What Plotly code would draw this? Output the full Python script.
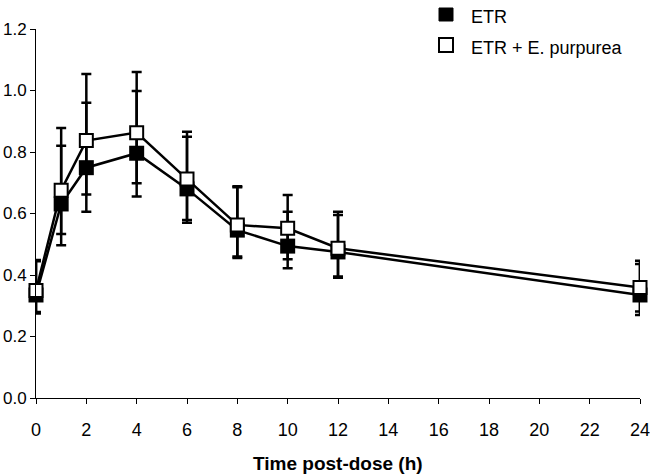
import plotly.graph_objects as go

# ---- data ----
times = [0, 1, 2, 4, 6, 8, 10, 12, 24]
etr_mean = [0.335, 0.631, 0.749, 0.796, 0.680, 0.546, 0.494, 0.475, 0.335]
etr_upper = [0.445, 0.820, 0.960, 0.998, 0.850, 0.689, 0.606, 0.595, 0.436]
etr_lower = [0.275, 0.497, 0.606, 0.655, 0.570, 0.455, 0.422, 0.391, 0.270]

ep_mean = [0.350, 0.676, 0.837, 0.863, 0.712, 0.563, 0.552, 0.487, 0.359]
ep_upper = [0.449, 0.878, 1.054, 1.060, 0.866, 0.685, 0.660, 0.606, 0.446]
ep_lower = [0.280, 0.533, 0.662, 0.698, 0.579, 0.460, 0.451, 0.395, 0.281]

series_names = ["ETR", "ETR + E. purpurea"]
x_ticks = [0, 2, 4, 6, 8, 10, 12, 14, 16, 18, 20, 22, 24]
y_ticks = [0.0, 0.2, 0.4, 0.6, 0.8, 1.0, 1.2]

FONT = "Liberation Sans, Arial, sans-serif"

def plus(u, m):
    return [a - b for a, b in zip(u, m)]

def minus(m, l):
    return [a - b for a, b in zip(m, l)]

fig = go.Figure()
fig.add_trace(go.Scatter(
    x=times, y=etr_mean, mode="lines+markers", name=series_names[0],
    line=dict(color="black", width=2.5),
    marker=dict(symbol="square", size=15, color="black"),
    error_y=dict(type="data", symmetric=False, array=plus(etr_upper, etr_mean),
                 arrayminus=minus(etr_mean, etr_lower), color="black",
                 thickness=2.5, width=5),
    cliponaxis=False, showlegend=False,
))
fig.add_trace(go.Scatter(
    x=times, y=ep_mean, mode="lines+markers", name=series_names[1],
    line=dict(color="black", width=2.5),
    marker=dict(symbol="square", size=13, color="white",
                line=dict(color="black", width=2)),
    error_y=dict(type="data", symmetric=False, array=plus(ep_upper, ep_mean),
                 arrayminus=minus(ep_mean, ep_lower), color="black",
                 thickness=2.5, width=5),
    cliponaxis=False, showlegend=False,
))

# manual legend (paper coords): plot spans x 36..640 px, y 29..398 px
def px_x(p):
    return (p - 36) / 604.0

def px_y(p):
    return 1 - (p - 29) / 369.0

fig.add_shape(type="rect", xref="paper", yref="paper",
              x0=px_x(439), x1=px_x(453), y0=px_y(21), y1=px_y(8),
              fillcolor="black", line=dict(color="black", width=1))
fig.add_shape(type="rect", xref="paper", yref="paper",
              x0=px_x(439), x1=px_x(453), y0=px_y(52), y1=px_y(38),
              fillcolor="white", line=dict(color="black", width=2))
fig.add_annotation(xref="paper", yref="paper", x=px_x(469), y=px_y(17),
                   text=series_names[0], showarrow=False, xanchor="left",
                   yanchor="middle", font=dict(family=FONT, size=18, color="black"))
fig.add_annotation(xref="paper", yref="paper", x=px_x(469), y=px_y(48),
                   text=series_names[1], showarrow=False, xanchor="left",
                   yanchor="middle", font=dict(family=FONT, size=18, color="black"))
fig.add_annotation(xref="paper", yref="paper", x=px_x(338), y=px_y(463),
                   text="<b>Time post-dose (h)</b>", showarrow=False,
                   xanchor="center", yanchor="middle",
                   font=dict(family=FONT, size=19, color="black"))

fig.update_layout(
    width=650, height=476,
    margin=dict(l=36, r=10, t=29, b=78),
    paper_bgcolor="white", plot_bgcolor="white",
    font=dict(family=FONT, size=18, color="black"),
    showlegend=False,
    xaxis=dict(range=[0, 24], tickvals=x_ticks, ticks="outside", ticklen=5,
               tickcolor="black", showline=True, linecolor="black", linewidth=1,
               showgrid=False, zeroline=False, automargin=False,
               ticklabelstandoff=10, ticklabeloverflow="allow"),
    yaxis=dict(range=[0, 1.2], tickvals=y_ticks, tickformat=".1f",
               ticks="outside", ticklen=5, tickcolor="black", showline=True,
               linecolor="black", linewidth=1, showgrid=False, zeroline=False,
               automargin=False, ticklabelstandoff=0, ticklabeloverflow="allow",
               tickfont=dict(family=FONT, size=17, color="black")),
)

fig.write_html(
    "out.html",
    config={"displayModeBar": False},
    post_script="document.body.style.margin='0';document.body.style.padding='0';",
)
